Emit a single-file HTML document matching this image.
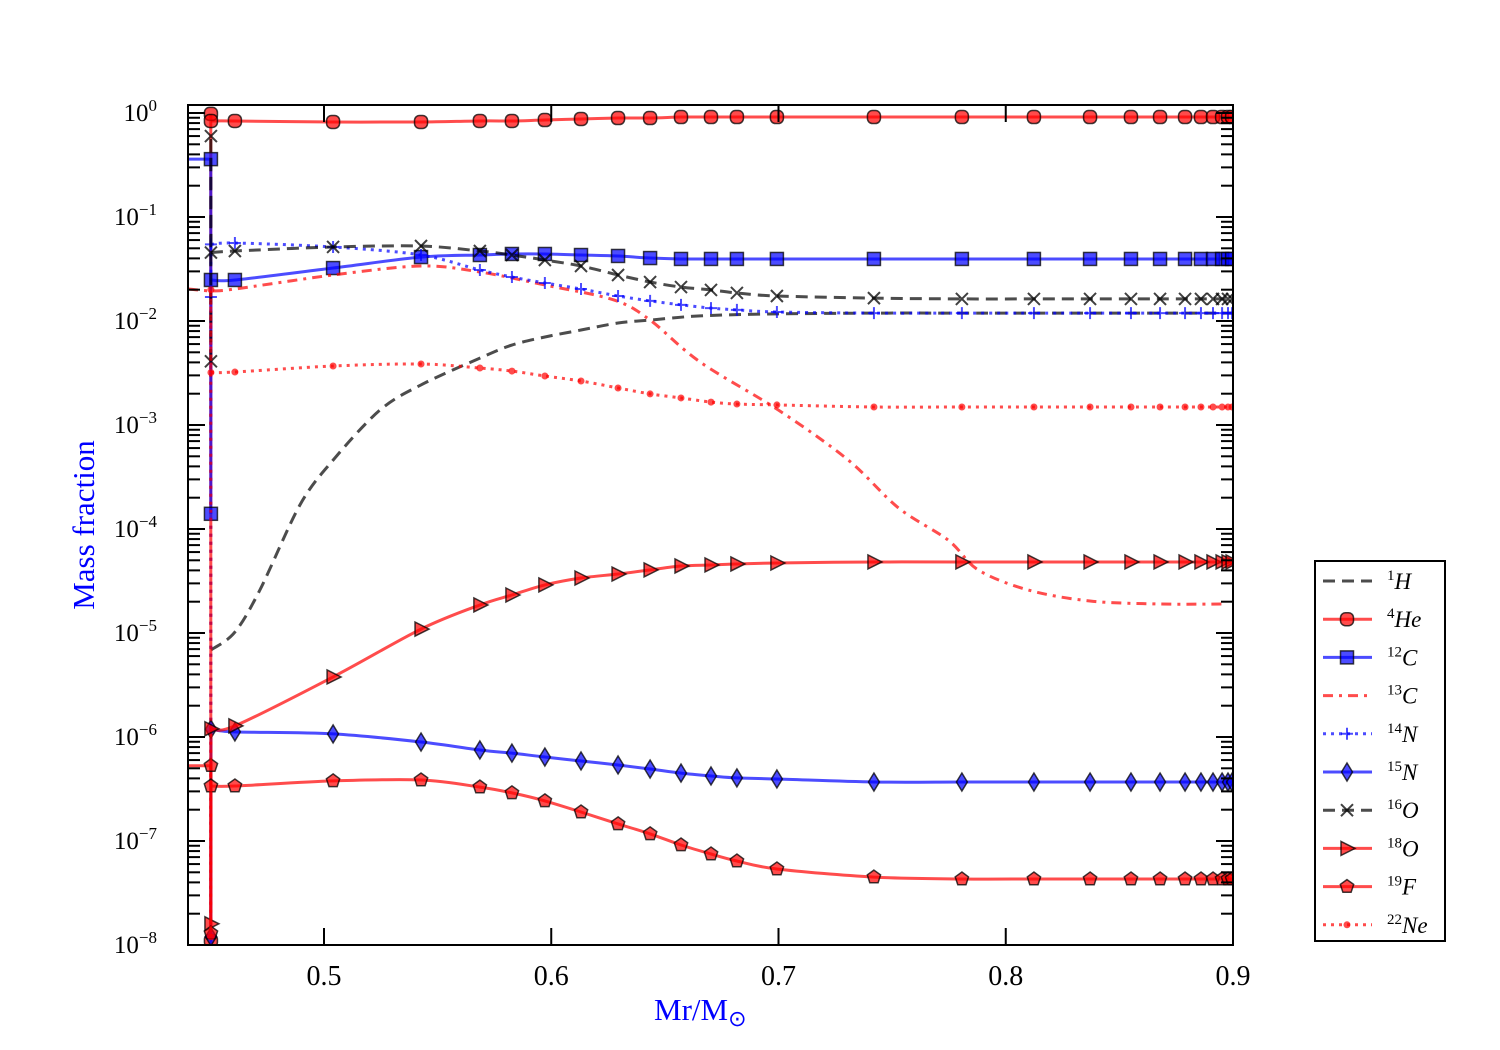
<!DOCTYPE html>
<html><head><meta charset="utf-8">
<style>
html,body{margin:0;padding:0;background:#fff;}
svg{display:block;font-family:"Liberation Serif",serif;}
</style></head>
<body>
<svg id="chart" width="1500" height="1050" viewBox="0 0 1500 1050"></svg>
<script>
// ---- data ----
const xTicks = [0.5, 0.6, 0.7, 0.8, 0.9];
const xTickLabels = ["0.5", "0.6", "0.7", "0.8", "0.9"];
const yDecades = [0, -1, -2, -3, -4, -5, -6, -7, -8];
const seriesNames = ["1H", "4He", "12C", "13C", "14N", "15N", "16O", "18O", "19F", "22Ne"];
const markerX = [0.4608,0.504,0.5427,0.5686,0.5827,0.5972,0.6131,0.6294,0.6435,0.6571,0.6703,0.6817,0.6993,0.742,0.7807,0.8124,0.8371,0.8551,0.8679,0.8789,0.8859,0.8912,0.8952,0.8978,0.8996];
const he4Values = [0.838,0.82,0.82,0.838,0.838,0.856,0.876,0.895,0.895,0.915,0.915,0.915,0.915,0.915,0.915,0.915,0.915,0.915,0.915,0.915,0.915,0.915,0.915,0.915,0.915];
const c12Values = [0.0248,0.0323,0.0412,0.0431,0.0441,0.0441,0.0431,0.0422,0.0403,0.0395,0.0395,0.0395,0.0395,0.0395,0.0395,0.0395,0.0395,0.0395,0.0395,0.0395,0.0395,0.0395,0.0395,0.0395,0.0395];
const o16Values = [0.0471,0.0515,0.0526,0.0471,0.0431,0.0386,0.0338,0.0277,0.0237,0.0212,0.0199,0.0186,0.0174,0.0166,0.0163,0.0163,0.0163,0.0163,0.0163,0.0163,0.0163,0.0163,0.0163,0.0163,0.0163];
const n14Values = [0.0562,0.0515,0.0431,0.0309,0.0265,0.0232,0.0203,0.0174,0.0156,0.0143,0.0133,0.0128,0.0122,0.0119,0.0119,0.0119,0.0119,0.0119,0.0119,0.0119,0.0119,0.0119,0.0119,0.0119,0.0119];
const ne22Values = [0.00323,0.00369,0.00386,0.00353,0.0033,0.00296,0.00265,0.00227,0.00199,0.00182,0.00166,0.00159,0.00156,0.00149,0.00149,0.00149,0.00149,0.00149,0.00149,0.00149,0.00149,0.00149,0.00149,0.00149,0.00149];
const n15Values = [1.12e-6,1.07e-6,8.95e-7,7.5e-7,7.0e-7,6.42e-7,5.88e-7,5.38e-7,4.92e-7,4.5e-7,4.22e-7,4.04e-7,3.95e-7,3.69e-7,3.69e-7,3.69e-7,3.69e-7,3.69e-7,3.69e-7,3.69e-7,3.69e-7,3.69e-7,3.69e-7,3.69e-7,3.69e-7];
const o18Values = [1.28e-6,3.78e-6,1.09e-5,1.86e-5,2.32e-5,2.9e-5,3.38e-5,3.69e-5,4.04e-5,4.41e-5,4.51e-5,4.61e-5,4.71e-5,4.82e-5,4.82e-5,4.82e-5,4.82e-5,4.82e-5,4.82e-5,4.82e-5,4.82e-5,4.82e-5,4.82e-5,4.82e-5,4.82e-5];
const f19Values = [3.38e-7,3.78e-7,3.86e-7,3.3e-7,2.9e-7,2.43e-7,1.9e-7,1.46e-7,1.17e-7,9.16e-8,7.5e-8,6.42e-8,5.38e-8,4.5e-8,4.31e-8,4.31e-8,4.31e-8,4.31e-8,4.31e-8,4.31e-8,4.31e-8,4.31e-8,4.31e-8,4.31e-8,4.31e-8];
const h1X = [0.4503,0.4608,0.4718,0.4894,0.504,0.5246,0.5427,0.5686,0.5827,0.5972,0.6131,0.6294,0.6435,0.6655,0.6993,0.742,0.7807,0.8124,0.8996];
const h1Values = [6.87e-6,1.02e-5,2.59e-5,1.7e-4,4.6e-4,1.39e-3,2.43e-3,4.4e-3,5.87e-3,7.02e-3,8.19e-3,9.57e-3,0.0102,0.0112,0.0117,0.0119,0.0119,0.0119,0.0119];
const c13X = [0.4402,0.4503,0.4608,0.504,0.5427,0.5686,0.5972,0.6277,0.6435,0.6655,0.7,0.7307,0.7527,0.7747,0.7879,0.8099,0.8371,0.8679,0.8952];
const c13Values = [0.0203,0.0195,0.0203,0.0277,0.0338,0.0296,0.0222,0.0159,0.0102,4.03e-3,1.39e-3,4.6e-4,1.6e-4,7.8e-5,4.04e-5,2.59e-5,2.03e-5,1.9e-5,1.9e-5];

// ---- scales ----
const PX0=188, PX1=1233, PY0=105, PY1=945;
const XMIN=0.44016, XMAX=0.9;
const DEC=104, Y0PX=113;
function sx(v){return PX0+(v-XMIN)/(XMAX-XMIN)*(PX1-PX0);}
function sy(v){return Y0PX-Math.log10(v)*DEC;}

const svg=document.getElementById('chart');
const NS='http://www.w3.org/2000/svg';
function mk(tag,attrs,parent){const e=document.createElementNS(NS,tag);for(const k in attrs)e.setAttribute(k,attrs[k]);(parent||svg).appendChild(e);return e;}

const RED='rgba(255,0,0,0.7)', BLUE='rgba(0,0,255,0.7)', BLK='rgba(0,0,0,0.7)';

function smoothPath(pts){
  let d='M'+pts[0][0].toFixed(1)+','+pts[0][1].toFixed(1);
  for(let i=0;i<pts.length-1;i++){
    const p0=pts[i-1]||pts[i],p1=pts[i],p2=pts[i+1],p3=pts[i+2]||p2;
    const t=0.16;
    const c1=[p1[0]+(p2[0]-p0[0])*t,p1[1]+(p2[1]-p0[1])*t];
    const c2=[p2[0]-(p3[0]-p1[0])*t,p2[1]-(p3[1]-p1[1])*t];
    d+=' C'+c1[0].toFixed(1)+','+c1[1].toFixed(1)+' '+c2[0].toFixed(1)+','+c2[1].toFixed(1)+' '+p2[0].toFixed(1)+','+p2[1].toFixed(1);
  }
  return d;
}

function marker(g,type,x,y,color){
  const st={fill:color,stroke:'rgba(0,0,0,0.75)','stroke-width':1.5};
  let e;
  if(type==='o'){e=mk('rect',Object.assign({x:x-6.5,y:y-6.5,width:13,height:13,rx:5},st),g);}
  else if(type==='s'){e=mk('rect',Object.assign({x:x-6.5,y:y-6.5,width:13,height:13},st),g);}
  else if(type==='d'){e=mk('polygon',Object.assign({points:`${x},${y-9} ${x+5.5},${y} ${x},${y+9} ${x-5.5},${y}`},st),g);}
  else if(type==='>'){e=mk('polygon',Object.assign({points:`${x-6},${y-7} ${x+8},${y} ${x-6},${y+7}`},st),g);}
  else if(type==='p'){let p=[];for(let k=0;k<5;k++){const a=-Math.PI/2+k*2*Math.PI/5;p.push((x+7*Math.cos(a)).toFixed(1)+','+(y+7*Math.sin(a)).toFixed(1));}e=mk('polygon',Object.assign({points:p.join(' ')},st),g);}
  else if(type==='x'){e=mk('path',{d:`M${x-6},${y-6}L${x+6},${y+6}M${x-6},${y+6}L${x+6},${y-6}`,stroke:'rgba(0,0,0,0.75)','stroke-width':2,fill:'none'},g);}
  else if(type==='+'){e=mk('path',{d:`M${x-6},${y}L${x+6},${y}M${x},${y-6}L${x},${y+6}`,stroke:color,'stroke-width':2,fill:'none'},g);}
  else if(type==='.'){e=mk('circle',{cx:x,cy:y,r:3.5,fill:color},g);}
  
  
}

const defs=mk('defs',{});
const cp=mk('clipPath',{id:'clip'},defs);
mk('rect',{x:PX0,y:PY0,width:PX1-PX0,height:PY1-PY0},cp);
const plot=mk('g',{'clip-path':'url(#clip)'});



const series=[
 {name:'1H',xs:h1X,ys:h1Values,color:BLK,dash:'12,7',mk:null,pre:[]},
 {name:'4He',xs:markerX,ys:he4Values,color:RED,dash:'',mk:'o',pre:[[0.4502,1.1e-8],[0.4502,0.98],[0.4503,0.838]]},
 {name:'12C',xs:markerX,ys:c12Values,color:BLUE,dash:'',mk:'s',pre:[[0.4402,0.36],[0.4502,0.36],[0.4502,1.4e-4],[0.4503,0.0248]]},
 {name:'13C',xs:c13X,ys:c13Values,color:RED,dash:'10,6,3,6',mk:null,pre:[]},
 {name:'14N',xs:markerX,ys:n14Values,color:BLUE,dash:'3,5',mk:'+',pre:[[0.4502,1.2e-8],[0.4502,0.017],[0.4503,0.0545]]},
 {name:'15N',xs:markerX,ys:n15Values,color:BLUE,dash:'',mk:'d',pre:[[0.4502,1.2e-8],[0.4503,1.19e-6]]},
 {name:'16O',xs:markerX,ys:o16Values,color:BLK,dash:'12,7',mk:'x',pre:[[0.4502,4.1e-3],[0.4502,0.6],[0.4503,0.0455]]},
 {name:'18O',xs:markerX,ys:o18Values,color:RED,dash:'',mk:'>',pre:[[0.4502,1.6e-8],[0.4503,1.2e-6]]},
 {name:'19F',xs:markerX,ys:f19Values,color:RED,dash:'',mk:'p',pre:[[0.4402,5.3e-7],[0.4502,5.3e-7],[0.4502,1.3e-8],[0.4503,3.38e-7]]},
 {name:'22Ne',xs:markerX,ys:ne22Values,color:RED,dash:'3,5',mk:'.',pre:[[0.4502,1.2e-8],[0.4502,0.02],[0.4503,3.2e-3]]}
];

series.forEach(s=>{
  const g=mk('g',{},plot);
  
  
  const prePts=s.pre.map(p=>[sx(p[0]),sy(p[1])]);
  const pts=s.xs.map((x,i)=>[sx(x),sy(s.ys[i])]);
  if(prePts.length){
    let d='M'+prePts.map(p=>p[0].toFixed(1)+','+p[1].toFixed(1)).join(' L');
    const pl=mk('path',{d:d,fill:'none',stroke:s.color,'stroke-width':3,'stroke-dasharray':s.dash||'none'},g);
    
    
  }
  const allPts=prePts.length?[prePts[prePts.length-1]].concat(pts):pts;
  const line=mk('path',{d:smoothPath(allPts),fill:'none',stroke:s.color,'stroke-width':3,'stroke-dasharray':s.dash||'none'},g);
  
  
  if(s.mk){
    s.pre.forEach(p=>{ if(p[0]>=0.4502) marker(g,s.mk,sx(0.45025),sy(p[1]),s.color); });
    pts.forEach(p=>marker(g,s.mk,p[0],p[1],s.color));
  }
});

// ---- axes ----
const ax=mk('g',{});


const frame=mk('rect',{x:PX0,y:PY0,width:PX1-PX0,height:PY1-PY0,fill:'none',stroke:'#000','stroke-width':2},ax);


xTicks.forEach((v,i)=>{
  const x=sx(v);
  mk('line',{x1:x,y1:PY1,x2:x,y2:PY1-17,stroke:'#000','stroke-width':2},ax);
  mk('line',{x1:x,y1:PY0,x2:x,y2:PY0+17,stroke:'#000','stroke-width':2},ax);
  const t=mk('text',{x:x,y:985,'font-size':28,'text-anchor':'middle'},ax);
  t.textContent=xTickLabels[i];
  
  
});
yDecades.forEach(d=>{
  const y=Y0PX-d*DEC;
  [PX0,PX1].forEach((bx,si)=>{
    const dir=si===0?1:-1;
    mk('line',{x1:bx,y1:y,x2:bx+dir*17,y2:y,stroke:'#000','stroke-width':2},ax);
    for(let m=2;m<=9;m++){
      const ym=y-Math.log10(m)*DEC;
      if(ym<PY0) continue;
      mk('line',{x1:bx,y1:ym,x2:bx+dir*12,y2:ym,stroke:'#000','stroke-width':2},ax);
    }
  });
  const t=mk('text',{x:157,y:y+8,'font-size':25,'text-anchor':'end'},ax);
  
  
  t.appendChild(document.createTextNode('10'));
  const sup=mk('tspan',{dy:-10,'font-size':17},t);
  sup.textContent=d===0?'0':'\u2212'+(-d);
});
const yl=mk('text',{x:0,y:0,'font-size':31,fill:'#0000ff','text-anchor':'middle',transform:'translate(94,525) rotate(-90)'});
yl.textContent='Mass fraction';


const xl=mk('text',{x:654,y:1020,'font-size':31,fill:'#0000ff'});


xl.appendChild(document.createTextNode('Mr/M'));
const sun=mk('tspan',{dy:6,'font-size':22},xl);sun.textContent='\u2299';

// ---- legend ----
const lg=mk('g',{});


mk('rect',{x:1315,y:561,width:130,height:380,fill:'#fff',stroke:'#000','stroke-width':2},lg);
series.forEach((s,i)=>{
  const y=581+i*38.2;
  const e=mk('g',{},lg);
  
  
  mk('line',{x1:1323,y1:y,x2:1372,y2:y,stroke:s.color,'stroke-width':3,'stroke-dasharray':s.dash||'none'},e);
  if(s.mk) marker(e,s.mk,1347,y,s.color);
  const iso=s.name.match(/^(\d+)(.*)$/);
  const t=mk('text',{x:1387,y:y+8,'font-size':23},e);
  const a=mk('tspan',{dy:-9,'font-size':15},t);a.textContent=iso[1];
  const b=mk('tspan',{dy:9,'font-style':'italic'},t);b.textContent=iso[2];
});
</script>
</body></html>
